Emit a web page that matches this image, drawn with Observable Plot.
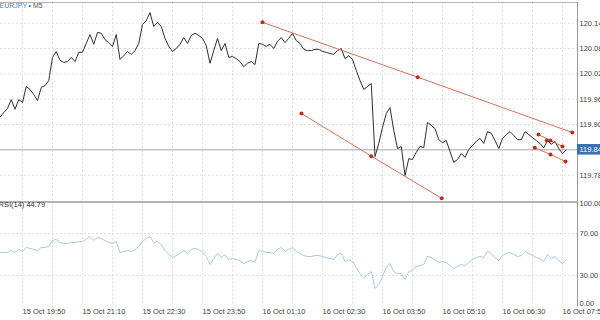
<!DOCTYPE html>
<html><head><meta charset="utf-8">
<script src="https://cdn.jsdelivr.net/npm/d3@7"></script>
<script src="https://cdn.jsdelivr.net/npm/@observablehq/plot@0.6"></script>
<style>
html,body{margin:0;padding:0;background:#fff;}
#chart{position:relative;width:600px;height:320px;overflow:hidden;font-family:"Liberation Sans",Arial,sans-serif;background:#fff;}
#chart svg{position:absolute;left:0;overflow:visible;}
</style></head><body><div id="chart"></div>
<script>
const symbol = "EURJPY";
const timeframe = "• M5";
const rsiLabel = "RSI(14) 44.79";
const barStart = "2019-10-15T19:20:00Z";
const barMinutes = 5;

const closes = [119.917,119.928,119.938,119.959,119.936,119.959,119.952,119.990,119.983,119.971,
 119.957,119.988,119.992,120.004,120.059,120.073,120.052,120.047,120.049,120.059,
 120.049,120.071,120.071,120.092,120.113,120.090,120.118,120.116,120.101,120.094,
 120.085,120.113,120.054,120.063,120.073,120.066,120.075,120.092,120.137,120.146,
 120.165,120.132,120.142,120.132,120.104,120.085,120.073,120.080,120.090,120.106,
 120.092,120.111,120.116,120.111,120.104,120.087,120.045,120.075,120.104,120.075,
 120.092,120.059,120.061,120.056,120.049,120.037,120.045,120.049,120.042,120.092,
 120.090,120.085,120.090,120.080,120.097,120.106,120.094,120.104,120.116,120.099,
 120.092,120.078,120.075,120.075,120.078,120.078,120.073,120.071,120.068,120.066,
 120.075,120.080,120.056,120.063,120.054,120.028,120.004,119.983,119.990,119.997,
 119.824,119.855,119.893,119.926,119.940,119.886,119.843,119.848,119.779,119.819,
 119.817,119.834,119.848,119.845,119.905,119.898,119.890,119.864,119.857,119.862,
 119.836,119.810,119.817,119.831,119.822,119.841,119.850,119.860,119.867,119.855,
 119.883,119.879,119.862,119.843,119.867,119.876,119.883,119.874,119.864,119.864,
 119.883,119.876,119.869,119.862,119.855,119.845,119.862,119.853,119.860,119.843,
 119.831,119.840];

const rsiValues = [51.9,51.9,51.9,53.8,51.9,54.8,52.9,56.7,55.7,54.8,
 53.8,56.7,56.7,57.6,63.3,64.3,61.4,60.5,60.5,61.4,
 61.4,62.4,62.4,64.3,67.1,63.3,66.2,65.2,63.3,61.4,
 60.5,62.4,51.9,52.9,53.8,52.9,54.8,57.6,62.4,65.2,
 67.1,61.4,62.4,59.5,53.8,50.0,47.1,49.0,51.0,53.8,
 51.0,54.8,55.7,54.8,51.9,48.1,40.5,46.2,51.0,47.1,
 50.0,45.2,46.2,45.2,44.3,41.4,43.3,44.3,42.4,53.8,
 52.9,51.9,51.9,51.0,54.8,56.7,52.9,54.8,56.7,52.9,
 51.0,49.0,48.1,48.1,49.0,49.0,48.1,47.1,46.2,45.2,
 50.0,51.0,43.3,45.2,43.3,37.6,31.9,28.1,31.0,33.8,
 17.6,21.4,29.0,37.6,41.4,33.8,31.9,31.9,26.2,33.8,
 34.8,38.6,39.5,40.5,48.1,47.1,45.2,42.4,43.3,42.4,
 39.5,36.7,38.6,40.5,39.5,42.4,45.2,47.1,48.1,47.1,
 52.9,51.0,47.1,44.3,49.0,51.0,51.9,50.0,48.1,49.0,
 52.9,51.0,49.0,47.1,46.2,43.3,50.0,46.2,48.1,44.3,
 41.4,44.79];

const priceTicks = [120.14, 120.08, 120.02, 119.96, 119.90, 119.78];
const lastPrice = 119.84;
const rsiGridTicks = [70, 30];
const rsiTopTick = [100];
const rsiBottomTick = [0];

const timeLabelTicks = ["2019-10-15T19:50Z","2019-10-15T21:10Z","2019-10-15T22:30Z","2019-10-15T23:50Z",
 "2019-10-16T01:10Z","2019-10-16T02:30Z","2019-10-16T03:50Z","2019-10-16T05:10Z","2019-10-16T06:30Z","2019-10-16T07:50Z"];
const timeGridTicks = ["2019-10-15T19:50Z","2019-10-15T20:30Z","2019-10-15T21:10Z","2019-10-15T21:50Z","2019-10-15T22:30Z",
 "2019-10-15T23:10Z","2019-10-15T23:50Z","2019-10-16T00:30Z","2019-10-16T01:10Z","2019-10-16T01:50Z","2019-10-16T02:30Z",
 "2019-10-16T03:10Z","2019-10-16T03:50Z","2019-10-16T04:30Z","2019-10-16T05:10Z","2019-10-16T05:50Z","2019-10-16T06:30Z",
 "2019-10-16T07:10Z","2019-10-16T07:50Z"];

// trend lines drawn on the chart (id, time, price)
const trendIds    = ["A","A","A","B","B","B","C","C","C","D","D","D","E"];
const trendTimes  = ["2019-10-16T01:10Z","2019-10-16T04:37Z","2019-10-16T08:03Z",
                     "2019-10-16T02:02Z","2019-10-16T03:35Z","2019-10-16T05:09Z",
                     "2019-10-16T07:18Z","2019-10-16T07:34Z","2019-10-16T07:50Z",
                     "2019-10-16T07:13Z","2019-10-16T07:34Z","2019-10-16T07:54Z",
                     "2019-10-16T07:29Z"];
const trendPrices = [120.142,120.012,119.881, 119.926,119.825,119.725, 119.876,119.862,119.848, 119.845,119.829,119.812, 119.862];

const t0 = Date.parse(barStart);
const priceData = closes.map((p,i)=>({t:new Date(t0 + i*barMinutes*60000), p}));
const rsiData = rsiValues.map((r,i)=>({t:new Date(t0 + i*barMinutes*60000), r}));
const trend = trendIds.map((id,i)=>({id, t:new Date(trendTimes[i]), p:trendPrices[i]}));
const labelDates = timeLabelTicks.map(s=>new Date(s));
const gridDates = timeGridTicks.map(s=>new Date(s));

const xDomain = [new Date("2019-10-15T19:20:40Z"), new Date("2019-10-16T08:10:00Z")];
const boxEnd = new Date("2019-10-16T08:45:00Z");
const yDomain = [119.7175, 120.189];
const font = '"Liberation Sans", Arial, sans-serif';
const gridStyle = {stroke:"#dedede", strokeOpacity:1, strokeDasharray:"2,2"};

const main = Plot.plot({
  width:600, height:202, marginTop:2, marginRight:23, marginBottom:1, marginLeft:0,
  style:{background:"transparent", overflow:"visible", fontFamily:font, fontSize:"7.5px"},
  x:{type:"utc", domain:xDomain, axis:null, label:null},
  y:{domain:yDomain, axis:null, label:null},
  marks:[
    Plot.gridX(gridDates, gridStyle),
    Plot.gridY(priceTicks, gridStyle),
    Plot.ruleY([yDomain[1]], {stroke:"#b5b5b5"}),
    Plot.ruleY([lastPrice], {stroke:"#a8a8a8"}),
    Plot.ruleX([xDomain[1]], {stroke:"#9a9a9a", y1:yDomain[0], y2:yDomain[1]}),
    Plot.line(priceData, {x:"t", y:"p", stroke:"#2f2f2f", strokeWidth:1}),
    Plot.line(trend, {x:"t", y:"p", z:"id", stroke:"#d6715d", strokeWidth:1}),
    Plot.dot(trend, {x:"t", y:"p", r:2, fill:"#c22a1f", stroke:null}),
    Plot.axisY(priceTicks, {anchor:"right", label:null, tickSize:0, tickPadding:2, tickFormat:d=>d.toFixed(2), fill:"#444", fontSize:7.5, textAnchor:"start"}),
    Plot.rect([lastPrice], {x1:()=>xDomain[1], x2:()=>boxEnd, y1:d=>d-0.0125, y2:d=>d+0.0125, fill:"#3b70b6"}),
    Plot.text([lastPrice], {x:()=>xDomain[1], y:d=>d, text:d=>d.toFixed(2), textAnchor:"start", dx:2, fill:"#fff", fontSize:7.5}),
    Plot.text([symbol], {frameAnchor:"top-left", text:d=>d, dx:-1, dy:1, fill:"#3d82d6", fontSize:7}),
    Plot.text([timeframe], {frameAnchor:"top-left", text:d=>d, dx:28, dy:1, fill:"#555", fontSize:7})
  ]
});

const sub = Plot.plot({
  width:600, height:119, marginTop:0.5, marginRight:23, marginBottom:13.5, marginLeft:0,
  style:{background:"transparent", overflow:"visible", fontFamily:font, fontSize:"7.5px"},
  x:{type:"utc", domain:xDomain, axis:null, label:null},
  y:{domain:[0,100], axis:null, label:null},
  marks:[
    Plot.gridX(gridDates, gridStyle),
    Plot.gridY(rsiGridTicks, gridStyle),
    Plot.ruleY(rsiTopTick, {stroke:"#9a9a9a", strokeWidth:1.5}),
    Plot.ruleX([xDomain[1]], {stroke:"#9a9a9a", y1:0, y2:100}),
    Plot.line(rsiData, {x:"t", y:"r", stroke:"#a9c9e4", strokeWidth:1}),
    Plot.axisY(rsiGridTicks, {anchor:"right", label:null, tickSize:0, tickPadding:2, tickFormat:d=>d.toFixed(2), fill:"#444", fontSize:7.5, textAnchor:"start"}),
    Plot.axisY(rsiTopTick, {anchor:"right", label:null, tickSize:0, tickPadding:2, dy:2, tickFormat:d=>d.toFixed(2), fill:"#444", fontSize:7.5, textAnchor:"start"}),
    Plot.axisY(rsiBottomTick, {anchor:"right", label:null, tickSize:0, tickPadding:2, dy:-3, tickFormat:d=>d.toFixed(2), fill:"#444", fontSize:7.5, textAnchor:"start"}),
    Plot.axisX(labelDates, {anchor:"bottom", label:null, tickSize:0, tickPadding:2, tickFormat:d3.utcFormat("%d %b %H:%M"), textAnchor:"start", fill:"#444", fontSize:7.5}),
    Plot.text([rsiLabel], {frameAnchor:"top-left", text:d=>d, dx:-2, dy:0, fill:"#333", fontSize:7.5})
  ]
});

main.style.top = "0px";
sub.style.top = "201px";
const chart = document.getElementById("chart");
chart.appendChild(main);
chart.appendChild(sub);
</script>
</body></html>
